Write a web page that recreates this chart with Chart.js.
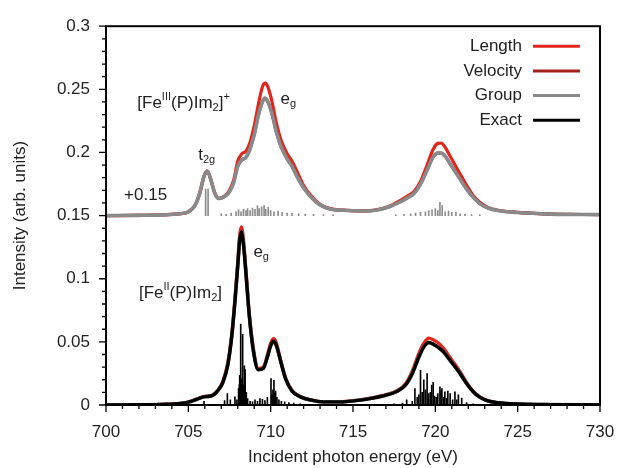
<!DOCTYPE html>
<html>
<head>
<meta charset="utf-8">
<script src="https://cdn.jsdelivr.net/npm/chart.js@4.4.0/dist/chart.umd.min.js"></script>
<style>
  html, body { margin: 0; padding: 0; background: #fff; }
</style>
</head>
<body>
<canvas id="chart" width="620" height="468"></canvas>
<script>
'use strict';

// axis ticks
const xTicks = [700, 705, 710, 715, 720, 725, 730];
const yTicks = [0, 0.05, 0.1, 0.15, 0.2, 0.25, 0.3];

// legend series
const seriesNames = ['Length', 'Velocity', 'Group', 'Exact'];
const seriesColors = ['#e3241b', '#a3201d', '#8a8a8a', '#000000'];

// [Fe(III)(P)Im2]+ spectrum, drawn shifted up by 0.15
const upperOffset = 0.15;
const upperE = [700, 702, 703.5, 704.5, 705.0, 705.4, 705.7, 705.95, 706.15, 706.4,
  706.6, 706.85, 707.15, 707.45, 707.75, 708.0, 708.25, 708.5, 708.75, 709.0,
  709.3, 709.5, 709.65, 709.8, 710.05, 710.35, 710.65, 711.0, 711.3, 711.6,
  712.0, 712.5, 713.0, 713.6, 714.4, 715.5, 716.4, 717.2, 717.8, 718.3,
  718.7, 719.1, 719.5, 719.85, 720.15, 720.35, 720.6, 720.9, 721.2, 721.5,
  721.9, 722.3, 722.7, 723.2, 723.8, 725, 727, 730];
const upperLength = [0, 0.0002, 0.0006, 0.0015, 0.003, 0.008, 0.018, 0.031, 0.0355, 0.027,
  0.018, 0.0135, 0.015, 0.019, 0.028, 0.043, 0.049, 0.051, 0.058, 0.071,
  0.091, 0.102, 0.105, 0.103, 0.092, 0.073, 0.059, 0.049, 0.043, 0.035,
  0.024, 0.015, 0.009, 0.0055, 0.0043, 0.0038, 0.0045, 0.0075, 0.0115, 0.0155,
  0.019, 0.027, 0.040, 0.052, 0.0572, 0.0575, 0.054, 0.047, 0.040, 0.033,
  0.024, 0.016, 0.0105, 0.0065, 0.0042, 0.0025, 0.0012, 0.0008];
const upperVelocity = [0, 0.0002, 0.0006, 0.0015, 0.003, 0.008, 0.018, 0.031, 0.035, 0.027,
  0.018, 0.0135, 0.0148, 0.018, 0.026, 0.039, 0.044, 0.046, 0.053, 0.064,
  0.082, 0.090, 0.093, 0.091, 0.082, 0.066, 0.054, 0.045, 0.039, 0.031,
  0.022, 0.014, 0.0085, 0.0052, 0.0042, 0.0037, 0.0043, 0.007, 0.0105, 0.014,
  0.0175, 0.025, 0.036, 0.046, 0.0495, 0.0495, 0.047, 0.041, 0.035, 0.029,
  0.021, 0.0145, 0.0095, 0.006, 0.004, 0.0024, 0.0012, 0.0008];
const upperGroup = [0, 0.0002, 0.0006, 0.0015, 0.003, 0.008, 0.018, 0.031, 0.035, 0.027,
  0.018, 0.0135, 0.0148, 0.018, 0.026, 0.039, 0.044, 0.046, 0.053, 0.064,
  0.082, 0.090, 0.093, 0.091, 0.082, 0.066, 0.054, 0.045, 0.039, 0.031,
  0.022, 0.014, 0.0085, 0.0052, 0.0042, 0.0037, 0.0043, 0.007, 0.0105, 0.014,
  0.0175, 0.025, 0.036, 0.046, 0.0495, 0.0495, 0.047, 0.041, 0.035, 0.029,
  0.021, 0.0145, 0.0095, 0.006, 0.004, 0.0024, 0.0012, 0.0008];
const upperStickE = [706.05, 706.2, 707.0, 707.3, 707.6, 707.9, 708.05, 708.2, 708.35, 708.5,
  708.6, 708.75, 708.9, 709.05, 709.2, 709.3, 709.45, 709.6, 709.7, 709.85,
  710.0, 710.2, 710.45, 710.7, 711.0, 711.3, 711.7, 712.1, 712.6, 713.2,
  713.8, 717.6, 718.1, 718.5, 718.8, 719.1, 719.4, 719.6, 719.8, 720.0,
  720.15, 720.28, 720.42, 720.6, 720.8, 721.0, 721.25, 721.5, 721.8, 722.2, 722.7];
const upperStickH = [0.021, 0.021, 0.0015, 0.001, 0.002, 0.003, 0.0045, 0.003, 0.005, 0.004,
  0.0055, 0.004, 0.006, 0.005, 0.008, 0.0055, 0.007, 0.0082, 0.005, 0.0065,
  0.004, 0.003, 0.0035, 0.0025, 0.002, 0.0018, 0.0015, 0.0012, 0.001, 0.0008,
  0.0006, 0.0006, 0.001, 0.0015, 0.002, 0.0025, 0.003, 0.004, 0.0045, 0.0055,
  0.004, 0.0105, 0.008, 0.003, 0.0035, 0.0025, 0.0025, 0.0015, 0.001, 0.0008, 0.0006];

// [Fe(II)(P)Im2] spectrum
const lowerE = [700, 702, 703.5, 704.5, 705.0, 705.5, 706.0, 706.4, 706.8, 707.1,
  707.4, 707.65, 707.85, 708.0, 708.12, 708.22, 708.35, 708.5, 708.7, 708.95,
  709.25, 709.55, 709.8, 710.0, 710.18, 710.35, 710.6, 710.9, 711.3, 711.8,
  712.4, 713.2, 714.2, 715.2, 716.2, 717.0, 717.7, 718.2, 718.6, 719.0,
  719.3, 719.6, 719.9, 720.2, 720.5, 720.8, 721.1, 721.5, 721.9, 722.3,
  722.7, 723.2, 723.8, 725, 727, 730];
const lowerLength = [0, 0.0002, 0.0005, 0.0012, 0.0023, 0.0047, 0.0068, 0.0075, 0.012, 0.019,
  0.034, 0.058, 0.088, 0.114, 0.135, 0.141, 0.131, 0.107, 0.073, 0.045,
  0.029, 0.030, 0.040, 0.049, 0.0525, 0.049, 0.036, 0.022, 0.0115, 0.0068,
  0.0042, 0.0026, 0.0026, 0.0037, 0.0058, 0.0082, 0.0116, 0.017, 0.027, 0.041,
  0.049, 0.053, 0.0515, 0.049, 0.045, 0.0395, 0.034, 0.0265, 0.018, 0.011,
  0.0065, 0.0034, 0.0019, 0.0008, 0.0003, 0.0001];
const lowerVelocity = [0, 0.0002, 0.0005, 0.0012, 0.0022, 0.0045, 0.0066, 0.0072, 0.0115, 0.018,
  0.032, 0.056, 0.085, 0.11, 0.131, 0.137, 0.127, 0.104, 0.071, 0.043,
  0.028, 0.029, 0.038, 0.047, 0.0505, 0.047, 0.035, 0.021, 0.011, 0.0065,
  0.004, 0.0025, 0.0025, 0.0035, 0.0055, 0.0078, 0.011, 0.016, 0.025, 0.038,
  0.046, 0.0495, 0.048, 0.0455, 0.042, 0.037, 0.032, 0.025, 0.017, 0.0105,
  0.0062, 0.0032, 0.0018, 0.0008, 0.0003, 0.0001];
const lowerGroup = [0, 0.0002, 0.0005, 0.0012, 0.0022, 0.0045, 0.0066, 0.0072, 0.0115, 0.018,
  0.032, 0.056, 0.085, 0.11, 0.131, 0.137, 0.127, 0.104, 0.071, 0.043,
  0.028, 0.029, 0.038, 0.047, 0.0505, 0.047, 0.035, 0.021, 0.011, 0.0065,
  0.004, 0.0025, 0.0025, 0.0035, 0.0055, 0.0078, 0.011, 0.016, 0.025, 0.038,
  0.046, 0.0495, 0.048, 0.0455, 0.042, 0.037, 0.032, 0.025, 0.017, 0.0105,
  0.0062, 0.0032, 0.0018, 0.0008, 0.0003, 0.0001];
const lowerExact = [0, 0.0002, 0.0005, 0.0012, 0.0022, 0.0045, 0.0066, 0.0072, 0.0115, 0.018,
  0.032, 0.056, 0.085, 0.11, 0.131, 0.137, 0.127, 0.104, 0.071, 0.043,
  0.028, 0.029, 0.038, 0.047, 0.0505, 0.047, 0.035, 0.021, 0.011, 0.0065,
  0.004, 0.0025, 0.0025, 0.0035, 0.0055, 0.0078, 0.011, 0.016, 0.025, 0.038,
  0.046, 0.0495, 0.048, 0.0455, 0.042, 0.037, 0.032, 0.025, 0.017, 0.0105,
  0.0062, 0.0032, 0.0018, 0.0008, 0.0003, 0.0001];
const lowerStickE = [705.95, 707.2, 707.37, 707.55, 707.83, 707.95, 708.05, 708.1, 708.12, 708.15,
  708.18, 708.21, 708.24, 708.27, 708.3, 708.33, 708.36, 708.4, 708.45, 708.52,
  708.6, 708.75, 708.9, 709.05, 709.2, 709.35, 709.5, 709.65, 709.8, 710.02,
  710.08, 710.14, 710.2, 710.26, 710.3, 710.38, 710.5, 710.65, 710.85, 711.1,
  711.4, 711.8, 717.5, 718.0, 718.26, 718.6, 718.76, 718.9, 719.0, 719.1,
  719.2, 719.3, 719.4, 719.5, 719.6, 719.7, 719.78, 719.87, 719.95, 720.05,
  720.15, 720.28, 720.35, 720.4, 720.5, 720.58, 720.68, 720.76, 720.9, 721.05,
  721.19, 721.3, 721.4, 721.6, 721.9, 722.3];
const lowerStickH = [0.003, 0.0035, 0.009, 0.004, 0.0065, 0.004, 0.013, 0.016, 0.0235, 0.018,
  0.064, 0.02, 0.017, 0.021, 0.056, 0.016, 0.012, 0.031, 0.028, 0.01,
  0.005, 0.003, 0.0025, 0.004, 0.003, 0.005, 0.0045, 0.0035, 0.006, 0.021,
  0.008, 0.012, 0.0196, 0.009, 0.011, 0.006, 0.004, 0.003, 0.0025, 0.002,
  0.0015, 0.001, 0.001, 0.0015, 0.004, 0.003, 0.013, 0.006, 0.008, 0.0274,
  0.01, 0.02, 0.012, 0.0248, 0.009, 0.01, 0.0157, 0.018, 0.007, 0.006,
  0.009, 0.0144, 0.011, 0.013, 0.006, 0.0104, 0.005, 0.011, 0.009, 0.004,
  0.0104, 0.004, 0.008, 0.0055, 0.002, 0.001];

const FONT = "'Liberation Sans', Arial, Helvetica, sans-serif";
const TEXT = '#222';
Chart.defaults.font.family = FONT;
Chart.defaults.font.size = 17;
Chart.defaults.color = TEXT;

function points(xs, ys, shift) {
  let out = [];
  for (let i = 0; i < xs.length; i++) {
    out.push({ x: xs[i], y: ys[i] + shift });
  }
  return out;
}

function sticks(xs, hs, base) {
  let out = [];
  for (let i = 0; i < xs.length; i++) {
    out.push({ x: xs[i], y: [base, base + hs[i]] });
  }
  return out;
}

const widths = [3.2, 3, 3.6, 3.4];

function curve(idx, xs, ys, shift) {
  return {
    type: 'line',
    label: seriesNames[idx],
    data: points(xs, ys, shift),
    borderColor: seriesColors[idx],
    borderWidth: widths[idx],
    pointRadius: 0,
    cubicInterpolationMode: 'monotone',
    fill: false,
    order: 4 - idx
  };
}

function stickSet(xs, hs, base, color) {
  return {
    type: 'bar',
    data: sticks(xs, hs, base),
    backgroundColor: color,
    borderWidth: 0,
    barThickness: 1,
    grouped: false,
    order: 10
  };
}

let datasets = [
  curve(0, upperE, upperLength, upperOffset),
  curve(1, upperE, upperVelocity, upperOffset),
  curve(2, upperE, upperGroup, upperOffset),
  curve(0, lowerE, lowerLength, 0),
  curve(1, lowerE, lowerVelocity, 0),
  curve(2, lowerE, lowerGroup, 0),
  curve(3, lowerE, lowerExact, 0),
  stickSet(upperStickE, upperStickH, upperOffset, '#8c8c8c'),
  stickSet(lowerStickE, lowerStickH, 0, '#000000')
];

// text labels placed in data coordinates; parts: [text, 0 normal | 1 sup | -1 sub]
const notes = [
  { x: 701.9, y: 0.239, parts: [['[Fe', 0], ['III', 1], ['(P)Im', 0], ['2', -1], [']', 0], ['+', 1]] },
  { x: 710.6, y: 0.242, parts: [['e', 0], ['g', -1]] },
  { x: 705.6, y: 0.198, parts: [['t', 0], ['2g', -1]] },
  { x: 701.1, y: 0.166, parts: [['+0.15', 0]] },
  { x: 702.0, y: 0.0885, parts: [['[Fe', 0], ['II', 1], ['(P)Im', 0], ['2', -1], [']', 0]] },
  { x: 708.95, y: 0.121, parts: [['e', 0], ['g', -1]] }
];

const notePlugin = {
  id: 'notes',
  afterDraw(chart) {
    const { ctx, scales: { x, y } } = chart;
    ctx.save();
    ctx.fillStyle = TEXT;
    ctx.textBaseline = 'middle';
    ctx.textAlign = 'left';
    notes.forEach(n => {
      let px = x.getPixelForValue(n.x);
      const py = y.getPixelForValue(n.y);
      n.parts.forEach(p => {
        const small = p[1] !== 0;
        ctx.font = (small ? 11 : 17) + 'px ' + FONT;
        const dy = p[1] === 1 ? -6 : (p[1] === -1 ? 5 : 0);
        ctx.fillText(p[0], px, py + dy);
        px += ctx.measureText(p[0]).width;
      });
    });
    ctx.restore();
  }
};

const legendPlugin = {
  id: 'sideLegend',
  afterDraw(chart) {
    const { ctx, chartArea: a } = chart;
    ctx.save();
    ctx.font = '17px ' + FONT;
    ctx.textAlign = 'right';
    ctx.textBaseline = 'middle';
    for (let i = 0; i < seriesNames.length; i++) {
      const yy = a.top + 20 + i * 24.7;
      ctx.fillStyle = TEXT;
      ctx.fillText(seriesNames[i], a.right - 78, yy);
      ctx.strokeStyle = seriesColors[i];
      ctx.lineWidth = 3;
      ctx.beginPath();
      ctx.moveTo(a.right - 67, yy);
      ctx.lineTo(a.right - 20, yy);
      ctx.stroke();
    }
    ctx.restore();
  }
};

// frame and tick marks (major + minor)
const framePlugin = {
  id: 'frame',
  afterDatasetsDraw(chart) {
    const { ctx, chartArea: a, scales: { x, y } } = chart;
    ctx.save();
    ctx.strokeStyle = '#000';
    ctx.lineWidth = 1.3;
    ctx.beginPath();
    for (let v = 700; v <= 730; v++) {
      const px = x.getPixelForValue(v);
      const len = v % 5 === 0 ? 7 : 4;
      ctx.moveTo(px, a.bottom);
      ctx.lineTo(px, a.bottom + len);
    }
    for (let k = 0; k <= 30; k++) {
      const py = y.getPixelForValue(k / 100);
      const len = k % 5 === 0 ? 7 : 4;
      ctx.moveTo(a.left - len, py);
      ctx.lineTo(a.left, py);
    }
    ctx.stroke();
    ctx.lineWidth = 2;
    ctx.strokeRect(a.left, a.top, a.right - a.left, a.bottom - a.top);
    ctx.restore();
  }
};

new Chart(document.getElementById('chart'), {
  type: 'line',
  data: { datasets: datasets },
  options: {
    responsive: false,
    animation: false,
    layout: { padding: { top: 22, right: 20, left: 0, bottom: 0 } },
    plugins: { legend: { display: false }, tooltip: { enabled: false } },
    scales: {
      x: {
        type: 'linear',
        min: 700,
        max: 730,
        offset: false,
        afterBuildTicks: s => { s.ticks = xTicks.map(v => ({ value: v })); },
        afterFit: s => { s.height = 63; s.paddingLeft = 0; s.paddingRight = 0; },
        grid: { display: false, drawTicks: false },
        border: { display: false },
        ticks: { padding: 17, color: TEXT, maxRotation: 0, autoSkip: false, callback: v => String(v) },
        title: { display: true, text: 'Incident photon energy (eV)', color: TEXT, padding: { top: 0, bottom: 0 } }
      },
      y: {
        type: 'linear',
        min: 0,
        max: 0.3,
        afterBuildTicks: s => { s.ticks = yTicks.map(v => ({ value: v })); },
        afterFit: s => { s.width = 106; },
        grid: { display: false, drawTicks: false },
        border: { display: false },
        ticks: { padding: 16, color: TEXT, callback: v => String(Math.round(v * 100) / 100) },
        title: { display: true, text: 'Intensity (arb. units)', color: TEXT, padding: { top: 10, bottom: 0 } }
      }
    }
  },
  plugins: [framePlugin, notePlugin, legendPlugin]
});
</script>
</body>
</html>
